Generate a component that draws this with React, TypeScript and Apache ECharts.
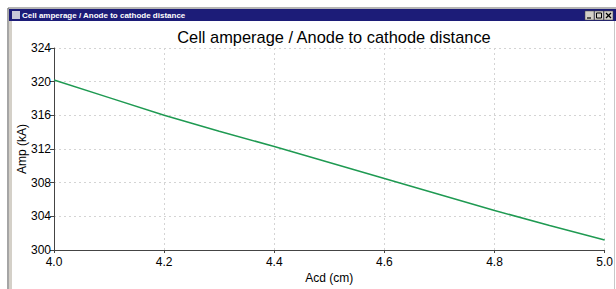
import React, { useEffect, useRef } from "react";
import * as echarts from "echarts";

const acd = [4.0, 4.1, 4.2, 4.3, 4.4, 4.5, 4.6, 4.7, 4.8, 4.9, 5.0];
const amp = [320.2, 318.1, 316.0, 314.1, 312.3, 310.4, 308.5, 306.6, 304.7, 302.9, 301.2];
const chartTitle = "Cell amperage / Anode to cathode distance";
const windowTitle = "Cell amperage / Anode to cathode distance";

export default function App() {
  const ref = useRef<HTMLDivElement>(null);
  useEffect(() => {
    if (!ref.current) return;
    const chart = echarts.init(ref.current, null, { renderer: "svg" });
    const font = "Liberation Sans, Arial, sans-serif";
    chart.setOption({
      animation: false,
      backgroundColor: "#ffffff",
      title: {
        text: chartTitle,
        left: 329,
        top: 24,
        textAlign: "center",
        textStyle: { fontFamily: font, fontSize: 16.4, fontWeight: "normal", color: "#000" },
      },
      grid: { left: 54, right: 11, top: 48, bottom: 33.5, containLabel: false },
      xAxis: {
        type: "value",
        min: 4.0,
        max: 5.0,
        interval: 0.2,
        name: "Acd (cm)",
        nameLocation: "middle",
        nameGap: 22,
        nameMoveOverlap: false,
        nameTextStyle: { fontFamily: font, fontSize: 12, color: "#000" },
        axisLine: { lineStyle: { color: "#444", width: 1 } },
        axisTick: { show: true, length: 3, lineStyle: { color: "#444" } },
        axisLabel: {
          fontFamily: font,
          fontSize: 12,
          color: "#000",
          margin: 6,
          formatter: (v: number) => v.toFixed(1),
        },
        splitLine: { show: true, lineStyle: { color: "#d4d4d4", type: [2, 3], width: 1 } },
      },
      yAxis: {
        type: "value",
        min: 300,
        max: 324,
        interval: 4,
        name: "Amp (kA)",
        nameLocation: "middle",
        nameGap: 26,
        nameMoveOverlap: false,
        nameRotate: 90,
        nameTextStyle: { fontFamily: font, fontSize: 12, color: "#000" },
        axisLine: { show: true, lineStyle: { color: "#444", width: 1 } },
        axisTick: { show: true, length: 4, lineStyle: { color: "#444" } },
        axisLabel: { fontFamily: font, fontSize: 12, color: "#000", margin: 3 },
        splitLine: { show: true, lineStyle: { color: "#d4d4d4", type: [2, 3], width: 1 } },
      },
      series: [
        {
          type: "line",
          data: acd.map((x, i) => [x, amp[i]]),
          showSymbol: false,
          symbol: "none",
          lineStyle: { color: "#1f9a52", width: 1.5 },
        },
      ],
      graphic: [
        { type: "rect", shape: { x: 0, y: 0, width: 616, height: 8 }, style: { fill: "#ffffff" }, silent: true },
        { type: "line", shape: { x1: 8, y1: 8, x2: 616, y2: 8 }, style: { stroke: "#6a6a6a", lineWidth: 1 } },
        { type: "line", shape: { x1: 8, y1: 8, x2: 8, y2: 289 }, style: { stroke: "#6a6a6a", lineWidth: 1.2 } },
        { type: "line", shape: { x1: 11.5, y1: 21, x2: 11.5, y2: 289 }, style: { stroke: "#6a6a6a", lineWidth: 1 } },
        { type: "rect", shape: { x: 9, y: 9, width: 3, height: 280 }, style: { fill: "#d4d0c8" } },
        { type: "line", shape: { x1: 614.5, y1: 21, x2: 614.5, y2: 289 }, style: { stroke: "#c8c8c8", lineWidth: 1 } },
        { type: "rect", shape: { x: 9, y: 9, width: 607, height: 12 }, style: { fill: "#1c1c78" } },
        { type: "rect", shape: { x: 12, y: 11, width: 8, height: 8 }, style: { fill: "#c8c8d8" } },
        {
          type: "text",
          x: 22,
          y: 15,
          style: {
            text: windowTitle,
            fill: "#ffffff",
            font: "bold 8px Liberation Sans, Arial, sans-serif",
            textVerticalAlign: "middle",
          },
        },
        { type: "rect", shape: { x: 585, y: 11, width: 9, height: 9 }, style: { fill: "#d4d0c8", stroke: "#404040", lineWidth: 0.5 } },
        { type: "line", shape: { x1: 587, y1: 18, x2: 591, y2: 18 }, style: { stroke: "#000", lineWidth: 1.2 } },
        { type: "rect", shape: { x: 594.5, y: 11, width: 9, height: 9 }, style: { fill: "#d4d0c8", stroke: "#404040", lineWidth: 0.5 } },
        { type: "rect", shape: { x: 596.5, y: 13, width: 5, height: 5 }, style: { fill: "none", stroke: "#000", lineWidth: 1 } },
        { type: "rect", shape: { x: 604, y: 11, width: 9, height: 9 }, style: { fill: "#d4d0c8", stroke: "#404040", lineWidth: 0.5 } },
        { type: "line", shape: { x1: 606, y1: 13, x2: 611, y2: 18 }, style: { stroke: "#000", lineWidth: 1.2 } },
        { type: "line", shape: { x1: 611, y1: 13, x2: 606, y2: 18 }, style: { stroke: "#000", lineWidth: 1.2 } },
      ],
    });
    return () => chart.dispose();
  }, []);
  return (
    <div
      ref={ref}
      style={{ position: "fixed", left: 0, top: 0, width: 616, height: 289 }}
    />
  );
}
